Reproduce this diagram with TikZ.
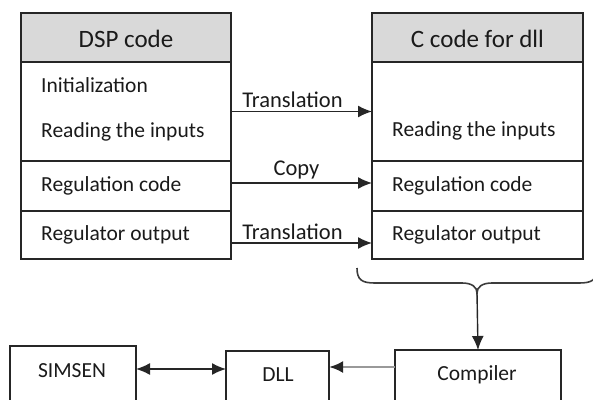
\documentclass[tikz,border=0pt]{standalone}
\usepackage{fontspec}
\setmainfont{Carlito}
\usetikzlibrary{arrows.meta}
\definecolor{boxline}{HTML}{262626}
\definecolor{headfill}{HTML}{D9D9D9}
\definecolor{txt}{HTML}{1A1A1A}
\tikzset{
  sect/.style={draw=boxline, line width=1.4pt, minimum width=#1, inner sep=0pt, outer sep=0pt},
  sect/.default=210pt,
  lbl/.style={font=\fontsize{21.5}{24}\selectfont, text=txt, inner sep=0pt, anchor=west},
  head/.style={font=\fontsize{25}{28}\selectfont, text=txt, inner sep=0pt},
  tipA/.tip={Latex[length=14pt,width=12pt]},
  arr/.style={line width=1.4pt, draw=boxline, -tipA},
  albl/.style={font=\fontsize{22.5}{25}\selectfont, text=txt, inner sep=0pt, anchor=base, xshift=-9pt},
  bbox/.style={draw=boxline, line width=1.4pt, inner sep=0pt, outer sep=0pt},
  btxt/.style={font=\fontsize{21.5}{24}\selectfont, text=txt, inner sep=0pt},
}
\begin{document}
\begin{tikzpicture}[x=1pt,y=-1pt]
\useasboundingbox (0,0) rectangle (593,399);
\clip (0,0) rectangle (593,399);
% left box
\node[sect, fill=headfill, minimum height=49pt] (dspH) at (126,37.5) {};
\node[sect, minimum height=99pt] (dspA) at (126,111.5) {};
\node[sect, minimum height=50pt] (dspB) at (126,186) {};
\node[sect, minimum height=48pt] (dspC) at (126,235) {};
\node[head] (dspT) at (126,39) {DSP code};
\node[lbl] (l1) at (41,85) {Initialization};
\node[lbl] (l2) at (41,132) {Reading the inputs};
\node[lbl] (l3) at (41,186) {Regulation code};
\node[lbl] (l4) at (41,235) {Regulator output};
% right box
\node[sect=211pt, fill=headfill, minimum height=49pt] (cH) at (477.5,37.5) {};
\node[sect=211pt, minimum height=99pt] (cA) at (477.5,111.5) {};
\node[sect=211pt, minimum height=50pt] (cB) at (477.5,186) {};
\node[sect=211pt, minimum height=48pt] (cC) at (477.5,235) {};
\node[head] (cT) at (477.5,39) {C code for dll};
\node[lbl] (r2) at (392,131) {Reading the inputs};
\node[lbl] (r3) at (392,186) {Regulation code};
\node[lbl] (r4) at (392,235) {Regulator output};
% arrows between boxes
\draw[arr] (dspA.east) -- node[albl, above=3pt] {Translation} (cA.west);
\draw[arr] ([yshift=3pt]dspB.east) -- node[albl, above=3pt, xshift=4pt] {Copy} ([yshift=3pt]cB.west);
\draw[arr] ([yshift=-8pt]dspC.east) -- node[albl, above=3pt] {Translation} ([yshift=-8pt]cC.west);
% brace
\coordinate (bl) at (357,268);
\coordinate (br) at (597,268);
\coordinate (bt) at (477,293);
\draw[line width=1.6pt, draw=boxline!90] (bl) .. controls (357,280) and (362,283) .. (375,283)
  -- (462,283) .. controls (472,283) and (477,287) .. (bt)
  .. controls (477,287) and (482,283) .. (492,283) -- (579,283)
  .. controls (592,283) and (597,280) .. (br);
% bottom boxes
\node[bbox, minimum width=126pt, minimum height=74pt] (sim) at (73,383) {};
\node[bbox, minimum width=103pt, minimum height=69pt] (dll) at (277.5,385.5) {};
\node[bbox, minimum width=166pt, minimum height=70pt] (comp) at (478,385) {};
\node[btxt] (simT) at (72,371) {SIMSEN};
\node[btxt] (dllT) at (278,375) {DLL};
\node[btxt] (compT) at (477,375) {Compiler};
\draw[arr] (bt) -- (comp.north);
\draw[line width=1.4pt, draw=boxline, tipA-tipA] ([yshift=14pt]sim.east) -- ([yshift=16.5pt]dll.west);
\draw[line width=2.6pt, draw=gray!80, -{Latex[length=14pt,width=12pt,color=boxline]}] ([yshift=18pt]comp.west) -- ([yshift=18.5pt]dll.east);
\end{tikzpicture}
\end{document}
